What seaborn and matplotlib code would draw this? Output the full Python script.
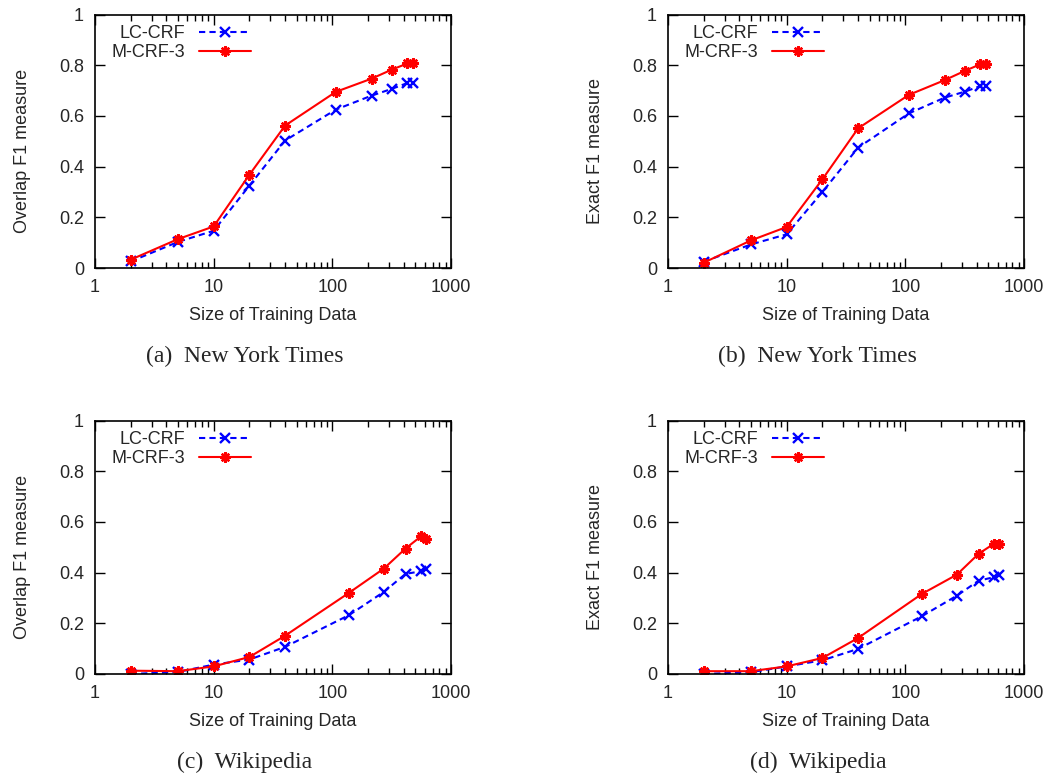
import numpy as np
import pandas as pd
import matplotlib
matplotlib.use("Agg")
import matplotlib.pyplot as plt
import seaborn as sns

# training-set sizes
nyt_x = [2, 5, 10, 20, 40, 107, 214, 318, 430, 475]
wiki_x = [2, 5, 10, 20, 40, 138, 272, 414, 559, 618]

# (a) NYT overlap F1
a_lc = [0.026, 0.103, 0.147, 0.325, 0.503, 0.625, 0.680, 0.707, 0.730, 0.730]
a_m = [0.033, 0.114, 0.164, 0.368, 0.562, 0.695, 0.747, 0.783, 0.807, 0.807]
# (b) NYT exact F1
b_lc = [0.025, 0.093, 0.133, 0.300, 0.475, 0.610, 0.672, 0.696, 0.718, 0.718]
b_m = [0.021, 0.109, 0.162, 0.350, 0.551, 0.683, 0.741, 0.778, 0.804, 0.804]
# (c) Wikipedia overlap F1
c_lc = [0.000, 0.008, 0.037, 0.057, 0.107, 0.232, 0.324, 0.395, 0.405, 0.414]
c_m = [0.013, 0.011, 0.030, 0.067, 0.151, 0.320, 0.416, 0.495, 0.543, 0.533]
# (d) Wikipedia exact F1
d_lc = [0.000, 0.007, 0.030, 0.054, 0.099, 0.228, 0.309, 0.368, 0.382, 0.389]
d_m = [0.011, 0.011, 0.030, 0.063, 0.142, 0.316, 0.392, 0.474, 0.514, 0.514]

panels = [
    (nyt_x, a_lc, a_m, 'Overlap F1 measure', '(a)  New York Times'),
    (nyt_x, b_lc, b_m, 'Exact F1 measure', '(b)  New York Times'),
    (wiki_x, c_lc, c_m, 'Overlap F1 measure', '(c)  Wikipedia'),
    (wiki_x, d_lc, d_m, 'Exact F1 measure', '(d)  Wikipedia'),
]

sns.set_style("ticks")
plt.rcParams['font.family'] = ['Liberation Sans', 'DejaVu Sans']
plt.rcParams['xtick.direction'] = 'in'
plt.rcParams['ytick.direction'] = 'in'

fig = plt.figure(figsize=(10.51, 7.78), dpi=100)
lefts = [0.0904, 0.6356]
bottoms = [0.6555, 0.1337]
w, h = 0.3387, 0.3258

for i, (xs, lc, m, ylab, cap) in enumerate(panels):
    ax = fig.add_axes([lefts[i % 2], bottoms[i // 2], w, h])
    df = pd.DataFrame({'x': xs, 'lc': lc, 'm': m})
    sns.lineplot(data=df, x='x', y='lc', ax=ax, color='#0000ff', linestyle=(0, (3, 2)),
                 linewidth=1.5, marker='x', markersize=6.5, markeredgewidth=1.7,
                 markeredgecolor='#0000ff', label='LC-CRF')
    sns.lineplot(data=df, x='x', y='m', ax=ax, color='#ff0000', linestyle='-',
                 linewidth=1.5, marker=(8, 2, 0), markersize=7.5, markeredgewidth=1.7,
                 markeredgecolor='#ff0000', label='M-CRF-3')
    ax.set_xscale('log')
    ax.set_xlim(1, 1000)
    ax.set_ylim(0, 1)
    ax.set_xticks([1, 10, 100, 1000])
    ax.set_xticklabels(['1', '10', '100', '1000'])
    ax.set_yticks([0, 0.2, 0.4, 0.6, 0.8, 1])
    ax.set_yticklabels(['0', '0.2', '0.4', '0.6', '0.8', '1'])
    ax.tick_params(which='both', top=True, right=True, labelsize=13, pad=8, color='black')
    ax.tick_params(which='major', length=7, width=1)
    ax.tick_params(which='minor', length=4, width=1)
    for s in ax.spines.values():
        s.set_linewidth(1.2)
        s.set_color('black')
    ax.set_xlabel('Size of Training Data', fontsize=13, labelpad=8)
    ax.set_ylabel(ylab, fontsize=13)
    ax.yaxis.set_label_coords(-0.18, 0.46)
    ax.legend(loc='upper left', bbox_to_anchor=(0.017, 1), markerfirst=False,
              frameon=False, fontsize=13, handlelength=2.9, labelspacing=0.1,
              borderaxespad=0.2, handletextpad=0.75)
    ax.text(0.421, -0.35, cap, transform=ax.transAxes, ha='center', va='center',
            fontsize=17, family=['Liberation Serif', 'DejaVu Serif'])

fig.savefig('out.png', dpi=100)
